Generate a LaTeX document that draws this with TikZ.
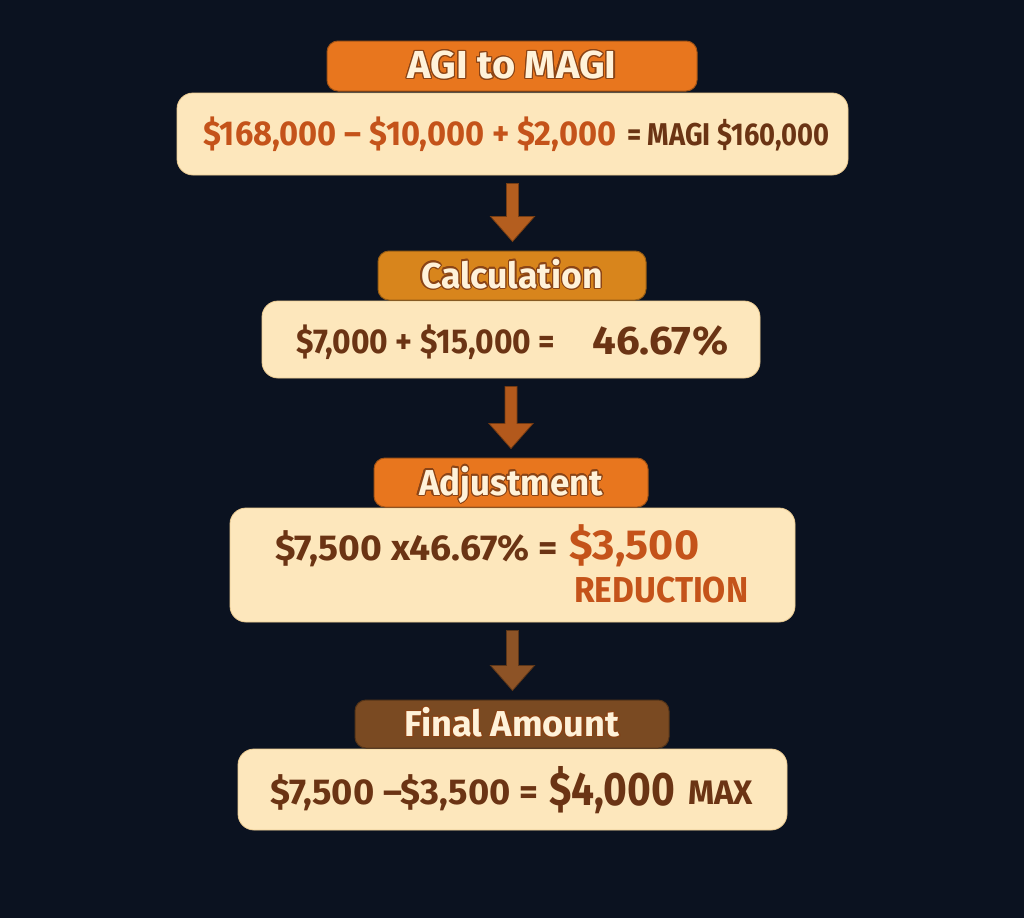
\documentclass[tikz,border=0pt]{standalone}
\usepackage{fontspec}
\setmainfont{Fira Sans}
\usepackage{graphicx}
\usepackage{contour}
\contourlength{1.2pt}
\usetikzlibrary{calc}
\definecolor{bg}{HTML}{0B1220}
\definecolor{cream}{HTML}{FDE7BC}
\definecolor{creamedge}{HTML}{EBCB92}
\definecolor{torange}{HTML}{E8761E}
\definecolor{tamber}{HTML}{D8851C}
\definecolor{tbrown}{HTML}{7A4A22}
\definecolor{titletext}{HTML}{FFF2D9}
\definecolor{titleline}{HTML}{8A4416}
\definecolor{txtdark}{HTML}{6B3414}
\definecolor{txtor}{HTML}{C4531A}
\definecolor{arrA}{HTML}{B45E1F}
\definecolor{arrB}{HTML}{B3591C}
\definecolor{arrC}{HTML}{8D5326}
\newcommand\fitw[2]{\resizebox{#1}{\height}{#2}}
\newcommand\fsz[1]{\bfseries\fontsize{#1}{#1}\selectfont}
\newcommand\ttl[2]{\fitw{#1}{\contour{titleline}{#2}}}
\newcommand\blockarrow[3]{%
  \filldraw[fill=#3, draw=#3!65!black, line width=0.8pt, line join=miter]
  let \p1=(#1.south), \p2=(#2.north) in
  ({\x1-6pt},{\y1-8pt}) -- ({\x1+6pt},{\y1-8pt}) -- ({\x1+6pt},{\y2+34pt})
  -- ({\x1+22pt},{\y2+34pt}) -- (\x1,{\y2+9pt}) -- ({\x1-22pt},{\y2+34pt})
  -- ({\x1-6pt},{\y2+34pt}) -- cycle;}
\tikzset{
  bodybox/.style={rounded corners=16pt, fill=cream, draw=creamedge, line width=0.8pt, inner sep=0pt},
  titlebox/.style={rounded corners=11pt, fill=#1, draw=#1!70!black, line width=1pt,
    inner sep=0pt, text=titletext, text height=25pt, text depth=0pt},
  btext/.style={inner sep=0pt, anchor=base west},
}
\begin{document}
\begin{tikzpicture}[x=1pt,y=-1pt]
\path[use as bounding box, fill=bg] (0,0) rectangle (1024,918);

% box 1
\node[bodybox, minimum width=671pt, minimum height=82pt] (b1) at (512.5,134) {};
\node[titlebox=torange, minimum width=370pt, minimum height=50pt, font=\fsz{39}] (t1) at (512,66) {\ttl{209pt}{AGI to MAGI}};
\node[btext, text=txtor, font=\fsz{34.5}] (a1) at (203,145.5) {\fitw{413pt}{\$168,000 – \$10,000 + \$2,000}};
\node[btext, text=txtdark, font=\fsz{31.5}] (a2) at (627,145.5) {\fitw{202pt}{= MAGI \$160,000}};

% box 2
\node[bodybox, minimum width=498pt, minimum height=77pt] (b2) at (511,339.5) {};
\node[titlebox=tamber, minimum width=268pt, minimum height=49pt, font=\fsz{36}] (t2) at (512,275.5) {\ttl{182pt}{Calculation}};
\node[btext, text=txtdark, font=\fsz{34.5}] (c1) at (296,353) {\fitw{259pt}{\$7,000 + \$15,000 =}};
\node[btext, text=txtdark, font=\fsz{40}] (c2) at (592,354) {\fitw{136pt}{46.67\%}};

% box 3
\node[bodybox, minimum width=565pt, minimum height=114pt] (b3) at (512.5,565) {};
\node[titlebox=torange, minimum width=274pt, minimum height=49pt, font=\fsz{36}] (t3) at (511,482.5) {\ttl{184pt}{Adjustment}};
\node[btext, text=txtdark, font=\fsz{36}] (d1) at (275,560) {\fitw{283pt}{\$7,500 x46.67\% =}};
\node[btext, text=txtor, font=\fsz{42}] (d2) at (569,559) {\fitw{130pt}{\$3,500}};
\node[btext, text=txtor, font=\fsz{36}] (d3) at (574,602) {\fitw{174pt}{REDUCTION}};

% box 4
\node[bodybox, minimum width=549pt, minimum height=81pt] (b4) at (512.5,789.5) {};
\node[titlebox=tbrown, minimum width=314pt, minimum height=48pt, font=\fsz{36}] (t4) at (512,724) {\ttl{215pt}{Final Amount}};
\node[btext, text=txtdark, font=\fsz{36}] (e1) at (270,804) {\fitw{268pt}{\$7,500 –\$3,500 =}};
\node[btext, text=txtdark, font=\fsz{47}] (e2) at (549,805) {\fitw{126pt}{\$4,000}};
\node[btext, text=txtdark, font=\fsz{34}] (e3) at (688,804) {\fitw{65pt}{MAX}};

% arrows
\blockarrow{b1}{t2}{arrA}
\blockarrow{b2}{t3}{arrB}
\blockarrow{b3}{t4}{arrC}
\end{tikzpicture}
\end{document}
